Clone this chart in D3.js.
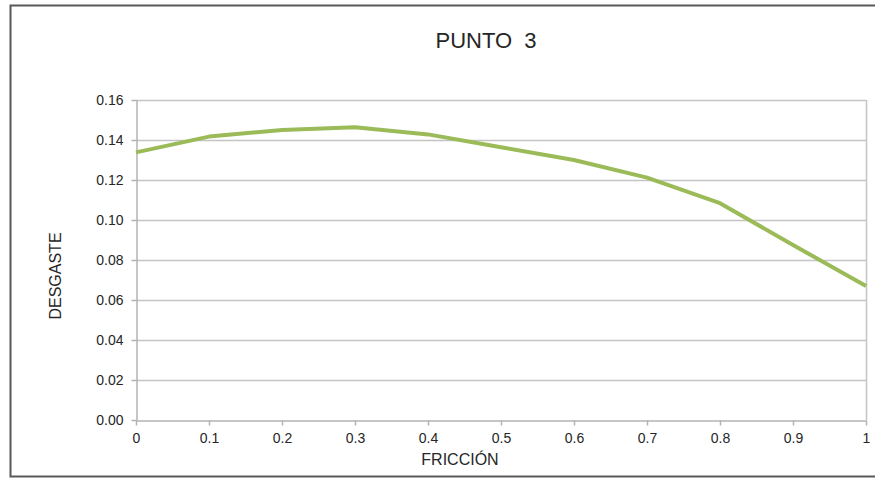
<!DOCTYPE html>
<html>
<head>
<meta charset="utf-8">
<script src="https://cdn.jsdelivr.net/npm/d3@7"></script>
<style>
  html, body { margin: 0; padding: 0; background: #fff; }
  svg { display: block; font-family: "Liberation Sans", Arial, sans-serif; }
</style>
</head>
<body>
<div id="chart"></div>
<script>
// Wear (DESGASTE) against friction coefficient (FRICCIÓN)
const friccion = [0, 0.1, 0.2, 0.3, 0.4, 0.5, 0.6, 0.7, 0.8, 0.9, 1];
const desgaste = [0.1338, 0.1417, 0.1450, 0.1464, 0.1428, 0.1364, 0.1300, 0.1212, 0.1084, 0.0875, 0.0670];
const yTicks = [0, 0.02, 0.04, 0.06, 0.08, 0.10, 0.12, 0.14, 0.16];
const xTicks = [0, 0.1, 0.2, 0.3, 0.4, 0.5, 0.6, 0.7, 0.8, 0.9, 1];
const titulo = "PUNTO  3";
const ejeX = "FRICCIÓN";
const ejeY = "DESGASTE";

const W = 875, H = 478;
const plotL = 136, plotR = 866, plotT = 100, plotB = 420;

const svg = d3.select("#chart").append("svg")
  .attr("width", W).attr("height", H);

// outer chart frame
svg.append("rect")
  .attr("x", 10.5).attr("y", 5.5)
  .attr("width", W + 10).attr("height", 471)
  .attr("fill", "#fff")
  .attr("stroke", "#595959").attr("stroke-width", 2);

const x = d3.scaleLinear().domain([0, 1]).range([plotL, plotR]);
const y = d3.scaleLinear().domain([0, 0.16]).range([plotB, plotT]);

// horizontal gridlines
svg.append("g").selectAll("line")
  .data(yTicks.filter(d => d > 0))
  .join("line")
  .attr("x1", plotL).attr("x2", plotR)
  .attr("y1", d => Math.round(y(d)) + 0.5).attr("y2", d => Math.round(y(d)) + 0.5)
  .attr("stroke", "#c4c4c4").attr("stroke-width", 1.5);

// right edge of the plot area
svg.append("line")
  .attr("x1", plotR + 0.5).attr("x2", plotR + 0.5)
  .attr("y1", plotT).attr("y2", plotB)
  .attr("stroke", "#c4c4c4").attr("stroke-width", 1.5);

const yAxis = svg.append("g")
  .attr("transform", `translate(${plotL + 0.5},0)`)
  .call(d3.axisLeft(y).tickValues(yTicks).tickFormat(d3.format(".2f"))
    .tickSize(5).tickPadding(8).tickSizeOuter(0));

const xAxis = svg.append("g")
  .attr("transform", `translate(0,${plotB + 0.5})`)
  .call(d3.axisBottom(x).tickValues(xTicks).tickFormat(d3.format("~g"))
    .tickSize(5).tickPadding(8).tickSizeOuter(0));

[yAxis, xAxis].forEach(g => {
  g.select(".domain").attr("stroke", "#b3b3b3").attr("stroke-width", 1.5);
  g.selectAll(".tick line").attr("stroke", "#b3b3b3").attr("stroke-width", 1.5);
  g.selectAll(".tick text")
    .attr("fill", "#262626")
    .style("font-size", "14px")
    .style("font-family", "'Liberation Sans', Arial, sans-serif");
});

// data line
svg.append("path")
  .datum(friccion.map((f, i) => [f, desgaste[i]]))
  .attr("fill", "none")
  .attr("stroke", "#9bbb59")
  .attr("stroke-width", 4)
  .attr("stroke-linejoin", "round")
  .attr("d", d3.line().x(d => x(d[0])).y(d => y(d[1])));

// title
svg.append("text")
  .attr("x", 486).attr("y", 48)
  .attr("text-anchor", "middle")
  .style("white-space", "pre")
  .attr("xml:space", "preserve")
  .style("font-size", "22px")
  .attr("fill", "#262626")
  .text(titulo);

// axis titles
svg.append("text")
  .attr("x", 460).attr("y", 465)
  .attr("text-anchor", "middle")
  .style("font-size", "16px")
  .attr("fill", "#262626")
  .text(ejeX);

svg.append("text")
  .attr("transform", "translate(61,276) rotate(-90)")
  .attr("text-anchor", "middle")
  .style("font-size", "16px")
  .attr("fill", "#262626")
  .text(ejeY);
</script>
</body>
</html>
